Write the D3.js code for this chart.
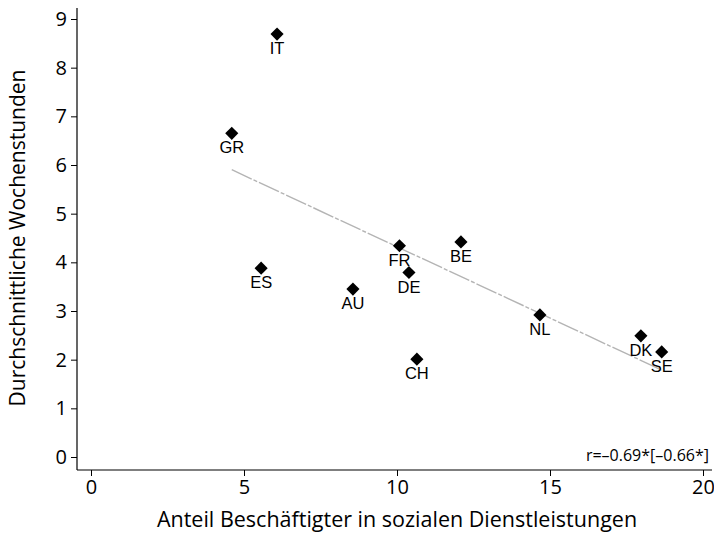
<!DOCTYPE html>
<html>
<head>
<meta charset="utf-8">
<script src="https://cdn.jsdelivr.net/npm/d3@7"></script>
<style>
  body { margin: 0; background: #fff; }
  svg { display: block; }
</style>
</head>
<body>
<div id="chart"></div>
<script>
// data
const countries = ["IT", "GR", "ES", "AU", "FR", "DE", "BE", "CH", "NL", "DK", "SE"]
const shareSocial = [6.08, 4.6, 5.56, 8.56, 10.08, 10.39, 12.09, 10.65, 14.67, 17.97, 18.65]
const weeklyHours = [8.69, 6.65, 3.88, 3.45, 4.34, 3.79, 4.42, 2.01, 2.92, 2.49, 2.16]
const xTicks = [0, 5, 10, 15, 20]
const yTicks = [0, 1, 2, 3, 4, 5, 6, 7, 8, 9]
const corrText = "r=–0.69*[–0.66*]"

const width = 714
const height = 534

const svg = d3.select("#chart")
    .append("svg")
    .attr("width", width)
    .attr("height", height)

const x = d3.scaleLinear().domain([0, 20]).range([91, 703])
const y = d3.scaleLinear().domain([0, 9]).range([457, 19])

const axisX = 470  // y position of the bottom axis line
const axisY = 77   // x position of the left axis line

const tickFont = "'Open Sans', sans-serif"

// x axis
const gx = svg.append("g")
    .attr("transform", "translate(0," + axisX + ")")
    .call(d3.axisBottom(x).tickValues(xTicks).tickSize(6).tickSizeOuter(0).tickPadding(4))
gx.select(".domain").remove()
gx.selectAll("line").attr("stroke", "#000")
gx.selectAll("text").style("font-family", tickFont).style("font-size", "20px").attr("fill", "#000")
svg.append("line")
    .attr("x1", axisY).attr("x2", 712)
    .attr("y1", axisX).attr("y2", axisX)
    .attr("stroke", "#000").attr("stroke-width", 1.2)

// y axis
const gy = svg.append("g")
    .attr("transform", "translate(" + axisY + ",0)")
    .call(d3.axisLeft(y).tickValues(yTicks).tickSize(6).tickSizeOuter(0).tickPadding(4))
gy.select(".domain").remove()
gy.selectAll("line").attr("stroke", "#000")
gy.selectAll("text").style("font-family", tickFont).style("font-size", "20px").attr("fill", "#000")
svg.append("line")
    .attr("x1", axisY).attr("x2", axisY)
    .attr("y1", 8).attr("y2", axisX)
    .attr("stroke", "#000").attr("stroke-width", 1.2)

// axis titles
svg.append("text")
    .attr("x", (x(0) + x(20)) / 2)
    .attr("y", 527)
    .attr("text-anchor", "middle")
    .style("font-family", tickFont).style("font-size", "21.5px")
    .text("Anteil Beschäftigter in sozialen Dienstleistungen")

svg.append("text")
    .attr("transform", "translate(25," + (y(0) + y(9)) / 2 + ") rotate(-90)")
    .attr("text-anchor", "middle")
    .style("font-family", tickFont).style("font-size", "21px")
    .text("Durchschnittliche Wochenstunden")

// OLS fit line over the data range
const n = countries.length
const mx = d3.mean(shareSocial), my = d3.mean(weeklyHours)
let sxy = 0, sxx = 0
for (let i = 0; i < n; i++) {
    sxy += (shareSocial[i] - mx) * (weeklyHours[i] - my)
    sxx += (shareSocial[i] - mx) ** 2
}
const slope = sxy / sxx
const icpt = my - slope * mx
const [xmin, xmax] = d3.extent(shareSocial)
svg.append("line")
    .attr("x1", x(xmin)).attr("y1", y(icpt + slope * xmin))
    .attr("x2", x(xmax)).attr("y2", y(icpt + slope * xmax))
    .attr("stroke", "#b4b4b4")
    .attr("stroke-width", 1.4)
    .attr("stroke-dasharray", "22,2,4,2")

// points
const pts = countries.map((c, i) => ({ c, x: shareSocial[i], y: weeklyHours[i] }))
const diamond = d3.symbol().type(d3.symbolDiamond2).size(110)

svg.selectAll("path.pt")
    .data(pts)
    .enter().append("path")
    .attr("class", "pt")
    .attr("d", diamond)
    .attr("transform", d => "translate(" + x(d.x) + "," + y(d.y) + ")")
    .attr("fill", "#000")

svg.selectAll("text.lbl")
    .data(pts)
    .enter().append("text")
    .attr("class", "lbl")
    .attr("x", d => x(d.x))
    .attr("y", d => y(d.y) + 20)
    .attr("text-anchor", "middle")
    .style("font-family", "'Liberation Sans', Arial, sans-serif")
    .style("font-size", "16.5px")
    .text(d => d.c)

// correlation note
svg.append("text")
    .attr("x", 709)
    .attr("y", 461)
    .attr("text-anchor", "end")
    .style("font-family", tickFont).style("font-size", "16px")
    .text(corrText)
</script>
</body>
</html>
